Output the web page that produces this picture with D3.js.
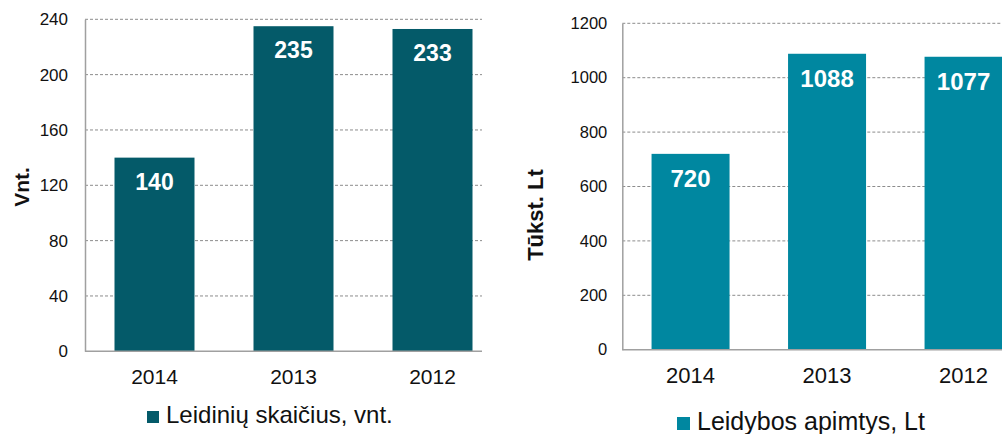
<!DOCTYPE html>
<html>
<head>
<meta charset="utf-8">
<script src="https://cdn.jsdelivr.net/npm/d3@7"></script>
<style>
body { margin: 0; background: #fff; }
svg { display: block; font-family: "Liberation Sans", Arial, sans-serif; }
</style>
</head>
<body>
<svg id="chart" width="1002" height="434"></svg>
<script>
var years = ["2014", "2013", "2012"];
var countValues = [140, 235, 233];
var volumeValues = [720, 1088, 1077];
var countTicks = [0, 40, 80, 120, 160, 200, 240];
var volumeTicks = [0, 200, 400, 600, 800, 1000, 1200];

var svg = d3.select("#chart");

function drawPanel(p) {
	var g = svg.append("g");

	var x = d3.scaleBand()
	.domain(years)
	.range([p.left, p.left + 3 * p.step])
	.paddingInner(p.gap)
	.paddingOuter(p.gap / 2);

	var y = d3.scaleLinear()
	.domain([0, p.ticks[p.ticks.length - 1]])
	.range([p.bottom, p.top]);

	// dashed gridlines
	g.selectAll(".grid").data(p.ticks.slice(1))
	.enter().append("line")
	.attr("x1", p.left).attr("x2", p.gridEnd)
	.attr("y1", function(d) { return y(d); })
	.attr("y2", function(d) { return y(d); })
	.attr("stroke", "#8c8c8c")
	.attr("stroke-width", 1)
	.attr("stroke-dasharray", "3,2");

	g.selectAll(".bar").data(p.values)
	.enter().append("rect")
	.attr("x", function(d, i) { return x(years[i]); })
	.attr("width", x.bandwidth())
	.attr("y", function(d) { return y(d); })
	.attr("height", function(d) { return p.bottom - y(d); })
	.attr("fill", p.color);

	// axes
	var yAxis = g.append("g")
	.attr("transform", "translate(" + p.left + ",0)")
	.call(d3.axisLeft(y).tickValues(p.ticks).tickFormat(d3.format("d")).tickSize(0).tickPadding(p.tickPad))
	.attr("font-family", null);
	yAxis.select(".domain").attr("stroke", "#a0a0a0").attr("stroke-width", 1.5);
	yAxis.selectAll("text").attr("font-size", p.tickFont).attr("fill", "#111");

	var xAxis = g.append("g")
	.attr("transform", "translate(0," + p.bottom + ")")
	.call(d3.axisBottom(x).tickSize(0).tickPadding(p.xPad))
	.attr("font-family", null);
	xAxis.select(".domain").attr("d", "M" + p.left + ",0H" + p.gridEnd)
	.attr("stroke", "#a0a0a0").attr("stroke-width", 1.5);
	xAxis.selectAll("text").attr("font-size", p.xFont).attr("fill", "#111");

	// value labels
	g.selectAll(".lbl").data(p.values)
	.enter().append("text")
	.attr("x", function(d, i) { return x(years[i]) + x.bandwidth() / 2; })
	.attr("y", function(d) { return y(d) + p.labelOffset; })
	.attr("text-anchor", "middle")
	.attr("font-size", p.labelFont)
	.attr("font-weight", "bold")
	.attr("fill", "#fff")
	.text(function(d) { return d; });

	// axis title
	g.append("text")
	.attr("transform", "translate(" + p.titleX + "," + p.titleY + ") rotate(-90)")
	.attr("text-anchor", "middle")
	.attr("font-size", p.titleFont)
	.attr("font-weight", "bold")
	.attr("fill", "#111")
	.text(p.title);

	// legend
	g.append("rect")
	.attr("x", p.legX).attr("y", p.legY - p.legSize)
	.attr("width", p.legSize).attr("height", p.legSize)
	.attr("fill", p.color);
	g.append("text")
	.attr("x", p.legX + p.legSize + 7).attr("y", p.legY)
	.attr("font-size", p.legFont)
	.attr("fill", "#111")
	.text(p.legend);
}

drawPanel({
	values: countValues, ticks: countTicks, color: "#045a69",
	left: 85, step: 139, gap: 59 / 139, top: 19.3, bottom: 351.3, gridEnd: 482,
	tickPad: 17, tickFont: 17, xPad: 18, xFont: 21,
	labelOffset: 32, labelFont: 23,
	title: "Vnt.", titleX: 29, titleY: 187, titleFont: 21,
	legX: 147, legY: 423, legSize: 12, legFont: 24, legend: "Leidinių skaičius, vnt."
});

drawPanel({
	values: volumeValues, ticks: volumeTicks, color: "#0087a0",
	left: 622.3, step: 136.5, gap: 58.5 / 136.5, top: 23.3, bottom: 349.7, gridEnd: 1002,
	tickPad: 15, tickFont: 16.5, xPad: 18, xFont: 22,
	labelOffset: 33, labelFont: 24,
	title: "Tūkst. Lt", titleX: 543, titleY: 215, titleFont: 22,
	legX: 677, legY: 430, legSize: 13, legFont: 25, legend: "Leidybos apimtys, Lt"
});
</script>
</body>
</html>
